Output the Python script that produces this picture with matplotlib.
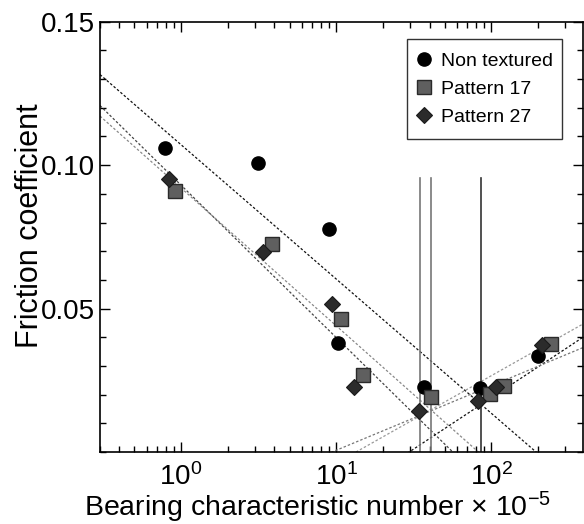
import numpy as np
import matplotlib
matplotlib.use("Agg")
import matplotlib.pyplot as plt
from matplotlib.ticker import MultipleLocator, LogLocator, NullFormatter
from matplotlib.patches import Rectangle
from matplotlib.transforms import IdentityTransform

plt.rcParams['font.family'] = ['Liberation Sans', 'DejaVu Sans']
plt.rcParams['mathtext.fontset'] = 'custom'
plt.rcParams['mathtext.rm'] = 'Liberation Sans'
plt.rcParams['mathtext.it'] = 'Liberation Sans:italic'
plt.rcParams['mathtext.bf'] = 'Liberation Sans:bold'

# ---- data ----
nt_x = [0.79, 3.13, 9.0, 10.2, 36.9, 84.6, 200.8]
nt_y = [0.1061, 0.1007, 0.0777, 0.0381, 0.0228, 0.0222, 0.0336]

p17_x = [0.92, 3.85, 10.7, 14.8, 40.7, 97.7, 120.8, 243.0]
p17_y = [0.0911, 0.0724, 0.0463, 0.0268, 0.0193, 0.0202, 0.0230, 0.0375]

p27_x = [0.84, 3.35, 9.33, 13.1, 34.2, 82.1, 106.7, 213.0]
p27_y = [0.0951, 0.0696, 0.0515, 0.0228, 0.0144, 0.0179, 0.0226, 0.0373]

# fit lines: y = a + b*log10(x)
fit_a = [0.1071, 0.0930, 0.0920, -0.0525, -0.0219, -0.0344]
fit_b = [-0.0468, -0.0531, -0.0480, 0.0357, 0.0225, 0.0305]
fit_colors = ['#111111', '#444444', '#888888', '#111111', '#777777', '#999999']

# transition lines
trans_x = [34.6, 40.7, 85.9]
trans_top = 0.0956
trans_colors = ['#777777', '#777777', '#333333']

xlim = (0.3, 390)
ylim = (0.0, 0.15)

fig = plt.figure(figsize=(5.84, 5.24), dpi=100)
ax = fig.add_axes([100/584, (524-452)/524, 483/584, (452-21.7)/524])
ax.set_xscale('log')
ax.set_xlim(*xlim)
ax.set_ylim(*ylim)

lx = np.logspace(np.log10(xlim[0]), np.log10(xlim[1]), 200)
for a, b, c in zip(fit_a, fit_b, fit_colors):
    ax.plot(lx, a + b*np.log10(lx), color=c, lw=0.9, ls=(0, (2.0, 1.6)), zorder=2)

for xv, c in zip(trans_x, trans_colors):
    ax.plot([xv, xv], [0, trans_top], color=c, lw=1.2, zorder=2)

ax.plot(nt_x, nt_y, 'o', ms=9.5, mfc='black', mec='black', ls='none', label='Non textured', zorder=3)
ax.plot(p17_x, p17_y, 's', ms=9.5, mfc='#5f5f5f', mec='#2a2a2a', mew=1.0, ls='none', label='Pattern 17', zorder=3)
ax.plot(p27_x, p27_y, 'D', ms=8.5, mfc='#2b2b2b', mec='#1a1a1a', mew=0.8, ls='none', label='Pattern 27', zorder=4)

ax.set_yticks([0.05, 0.10, 0.15])
ax.set_yticklabels(['0.05', '0.10', '0.15'])
ax.yaxis.set_minor_locator(MultipleLocator(0.01))
ax.xaxis.set_major_locator(LogLocator(base=10, numticks=10))
ax.xaxis.set_minor_locator(LogLocator(base=10, subs=np.arange(2, 10), numticks=20))
ax.xaxis.set_minor_formatter(NullFormatter())

ax.tick_params(which='both', direction='in', top=True, right=True, labelsize=20, width=1.0)
ax.tick_params(which='major', length=7)
ax.tick_params(which='minor', length=4)
ax.tick_params(axis='x', which='major', pad=8)
for s in ax.spines.values():
    s.set_linewidth(1.2)

ax.set_ylabel('Friction coefficient', fontsize=22)
ax.yaxis.set_label_coords(-0.114, 0.525)
ax.set_xlabel(r'Bearing characteristic number × 10$^{\mathdefault{-5}}$', fontsize=20.5)
ax.xaxis.label.set_va('baseline')
ax.xaxis.set_label_coords(0.451, -0.149)

ext = 4
leg = ax.legend(loc='upper right', bbox_to_anchor=(0.9565, (452 - 39.3 - ext) / 430.3),
                fontsize=14, frameon=False, handlelength=0.8, handletextpad=0.5,
                borderpad=0.45, labelspacing=0.55, borderaxespad=0)
leg.set_zorder(6)

fig.canvas.draw()
bb = leg.get_window_extent(fig.canvas.get_renderer())
frame = Rectangle((bb.x0, bb.y0 - ext), bb.width, bb.height + 2 * ext,
                  transform=IdentityTransform(), facecolor='white',
                  edgecolor='#333333', lw=1.0, zorder=5.5)
ax.add_artist(frame)

fig.savefig('out.png', dpi=100)
